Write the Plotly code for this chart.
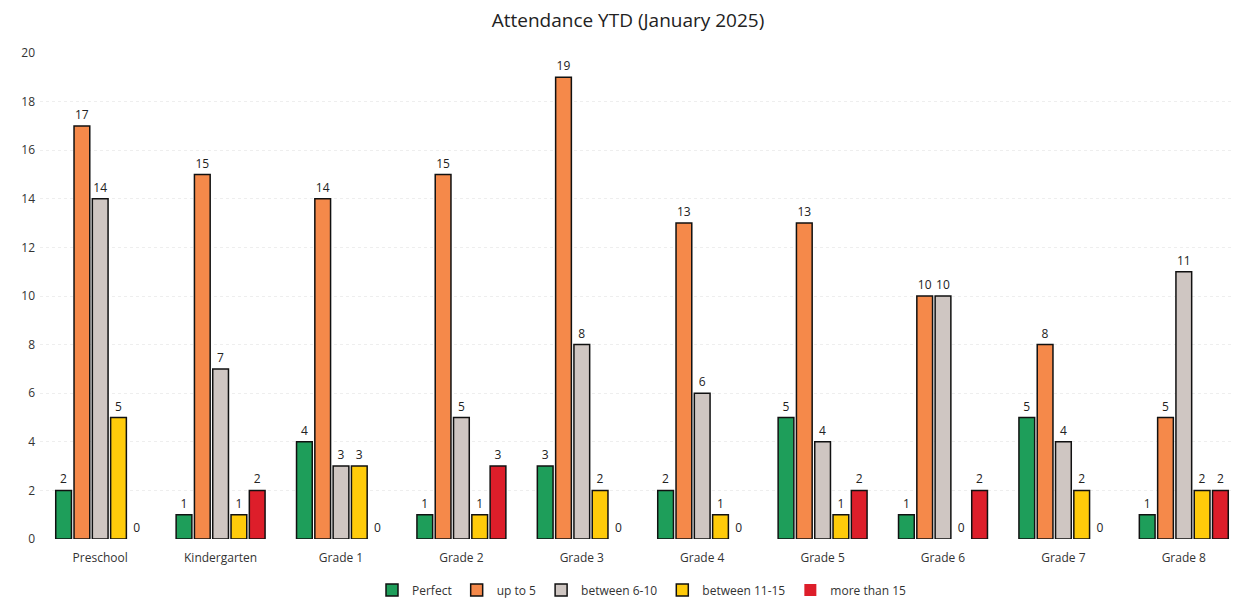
import plotly.graph_objects as go

categories = ["Preschool", "Kindergarten", "Grade 1", "Grade 2", "Grade 3",
              "Grade 4", "Grade 5", "Grade 6", "Grade 7", "Grade 8"]
perfect = [2, 1, 4, 1, 3, 2, 5, 1, 5, 1]
up_to_5 = [17, 15, 14, 15, 19, 13, 13, 10, 8, 5]
between_6_10 = [14, 7, 3, 5, 8, 6, 4, 10, 4, 11]
between_11_15 = [5, 1, 3, 1, 2, 1, 1, 0, 2, 2]
more_than_15 = [0, 2, 0, 3, 0, 0, 2, 2, 0, 2]

series = [
    ("Perfect", perfect, "#1E9E5A"),
    ("up to 5", up_to_5, "#F5894A"),
    ("between 6-10", between_6_10, "#CFC6C2"),
    ("between 11-15", between_11_15, "#FFCB0A"),
    ("more than 15", more_than_15, "#DD1E2A"),
]

fig = go.Figure()
for name, vals, color in series:
    fig.add_trace(go.Bar(
        name=name, x=categories, y=vals,
        marker=dict(color=color,
                    line=dict(color="#111111", width=[1.5 if v > 0 else 0 for v in vals])),
        text=[str(v) for v in vals], textposition="outside",
        textfont=dict(size=12, color="#222222"),
        cliponaxis=False,
    ))

fig.update_layout(
    title=dict(text="Attendance YTD (January 2025)", x=0.5, xanchor="center",
               y=0.98, yanchor="middle", font=dict(size=19, color="#222222")),
    barmode="group", bargap=0.24, bargroupgap=0.14,
    width=1240, height=603,
    margin=dict(l=32, r=4, t=45, b=72),
    paper_bgcolor="white", plot_bgcolor="white",
    font=dict(family="Open Sans, Liberation Sans, sans-serif", size=12, color="#333333"),
    xaxis=dict(showline=False, ticks="", tickfont=dict(size=12), ticklabelstandoff=10),
    yaxis=dict(range=[0, 20], dtick=2, showgrid=True, gridcolor="#EEEEEE",
               griddash="dot", zeroline=False, tickfont=dict(size=12), ticklabelstandoff=4),
    legend=dict(orientation="h", x=0.5, xanchor="center", y=-0.105, yanchor="middle",
                font=dict(size=12), itemwidth=30),
)

fig.write_html("out.html")
